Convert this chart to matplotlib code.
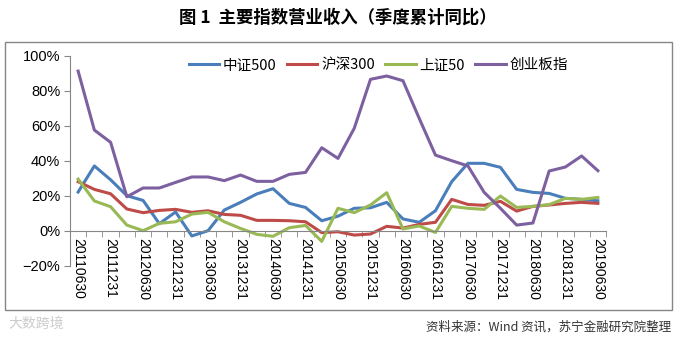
import numpy as np
import matplotlib.pyplot as plt
from matplotlib.patches import Rectangle
from matplotlib.ticker import PercentFormatter

plt.rcParams['font.family'] = ['Noto Sans CJK SC', 'DejaVu Sans']

# quarter ends 2011Q2 .. 2019Q2
quarters = []
for yr in range(2011, 2020):
    for md in ['0331', '0630', '0930', '1231']:
        quarters.append(f'{yr}{md}')
quarters = quarters[1:quarters.index('20190630') + 1]

zz500 = [22.1, 37.0, 29.1, 20.0, 17.3, 4.0, 10.7, -3.0, 0.0, 11.8, 16.2, 21.0, 24.0,
         15.6, 13.3, 5.7, 8.3, 12.8, 13.1, 16.2, 6.7, 4.8, 11.4, 28.0, 38.5, 38.5,
         36.2, 23.6, 21.9, 21.3, 18.5, 17.9, 17.1]
hs300 = [28.0, 23.6, 21.1, 12.4, 10.3, 11.6, 12.2, 10.5, 11.4, 9.3, 8.8, 5.9, 5.9,
         5.7, 5.1, -1.1, -0.6, -2.5, -1.9, 2.5, 1.5, 3.6, 4.8, 17.9, 15.0, 14.5,
         16.8, 11.2, 13.9, 14.7, 15.6, 16.2, 15.6]
sz50 = [29.5, 17.0, 13.7, 3.2, 0.0, 4.2, 5.1, 9.5, 10.5, 5.1, 1.3, -2.1, -3.2,
        1.7, 3.0, -6.1, 12.8, 10.3, 14.7, 21.7, 1.0, 2.7, -1.0, 13.9, 12.8, 12.2,
        19.8, 13.3, 13.9, 14.9, 18.5, 17.9, 19.0]
cyb = [91.2, 57.5, 50.5, 19.4, 24.4, 24.4, 27.6, 30.7, 30.7, 28.6, 31.8, 28.2, 28.2,
       32.2, 33.3, 47.4, 41.3, 58.5, 86.5, 88.4, 85.7, 64.2, 43.2, 40.0, 37.0, 21.9,
       12.8, 3.2, 4.4, 34.1, 36.4, 42.7, 34.3]

series = [('中证500', zz500, '#4A7EBB'), ('沪深300', hs300, '#BE4B48'),
          ('上证50', sz50, '#98B954'), ('创业板指', cyb, '#7D60A0')]

fig = plt.figure(figsize=(6.76, 3.39), dpi=100)
W, H = 676, 339
ax = fig.add_axes([70 / W, 1 - 265.7 / H, 536 / W, 210 / H])

x = np.arange(len(quarters))
for name, vals, col in series:
    ax.plot(x, np.array(vals) / 100, color=col, lw=2.2, label=name)

ax.set_xlim(-0.5, len(quarters) - 0.5)
ax.set_ylim(-0.2, 1.0)
ax.set_yticks(np.arange(-0.2, 1.01, 0.2))
ax.yaxis.set_major_formatter(PercentFormatter(1.0, decimals=0))

for s in ['top', 'right']:
    ax.spines[s].set_visible(False)
ax.spines['left'].set_color('#868686')
ax.spines['bottom'].set_color('#868686')
ax.spines['bottom'].set_position(('data', 0))

ax.set_xticks(x[::2])
ax.set_xticklabels(quarters[::2], rotation=-90, fontsize=10, family='Liberation Sans')
ax.set_xticks(np.arange(-0.5, len(quarters), 1), minor=True)
ax.tick_params(axis='x', which='major', length=0, pad=5)
ax.tick_params(axis='x', which='minor', length=4, direction='out', color='#868686')
ax.tick_params(axis='y', length=4, color='#868686', labelsize=10.5, pad=3)
for t in ax.get_yticklabels():
    t.set_family('Liberation Sans')

ax.legend(loc='upper center', bbox_to_anchor=(0.575, 1.05), ncol=4, frameon=False,
          fontsize=10.5, handlelength=2.1, handletextpad=0.25, columnspacing=0.7)

fig.patches.append(Rectangle((5 / W, 1 - 310 / H), 667 / W, 268 / H,
                             transform=fig.transFigure, fill=False,
                             edgecolor='#868686', lw=1))

fig.text(0.5, 1 - 18 / H, '图 1  主要指数营业收入（季度累计同比）', ha='center', va='center',
         fontsize=12.5, fontweight='bold')
fig.text(671 / W, 1 - 327 / H, '资料来源：Wind 资讯，苏宁金融研究院整理', ha='right',
         va='center', fontsize=9, style='italic', color='#333333')
fig.text(8 / W, 1 - 324 / H, '大数跨境', ha='left', va='center', fontsize=10,
         color='#cccccc')

fig.savefig('out.png', dpi=100)
